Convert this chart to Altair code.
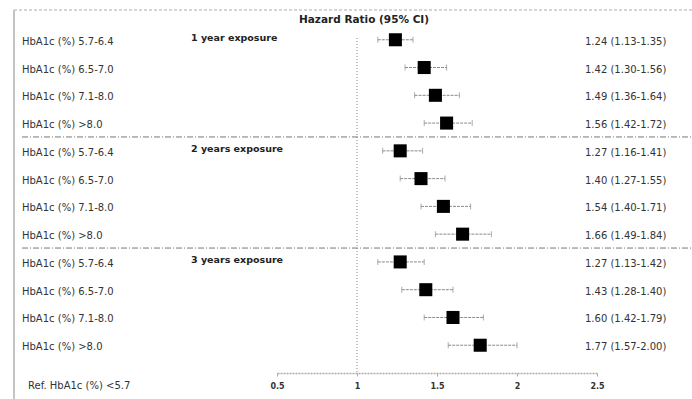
import altair as alt
import pandas as pd

# ---- data ----
groups = ["1 year exposure", "2 years exposure", "3 years exposure"]
categories = ["HbA1c (%) 5.7-6.4", "HbA1c (%) 6.5-7.0", "HbA1c (%) 7.1-8.0", "HbA1c (%) >8.0"]
hr = [1.24, 1.42, 1.49, 1.56, 1.27, 1.40, 1.54, 1.66, 1.27, 1.43, 1.60, 1.77]
lo = [1.13, 1.30, 1.36, 1.42, 1.16, 1.27, 1.40, 1.49, 1.13, 1.28, 1.42, 1.57]
hi = [1.35, 1.56, 1.64, 1.72, 1.41, 1.55, 1.71, 1.84, 1.42, 1.60, 1.79, 2.00]
ci_labels = [
    "1.24 (1.13-1.35)", "1.42 (1.30-1.56)", "1.49 (1.36-1.64)", "1.56 (1.42-1.72)",
    "1.27 (1.16-1.41)", "1.40 (1.27-1.55)", "1.54 (1.40-1.71)", "1.66 (1.49-1.84)",
    "1.27 (1.13-1.42)", "1.43 (1.28-1.40)", "1.60 (1.42-1.79)", "1.77 (1.57-2.00)",
]
x_ticks = [0.5, 1, 1.5, 2, 2.5]
title_text = "Hazard Ratio (95% CI)"
ref_text = "Ref. HbA1c (%) <5.7"

rows = []
i = 0
for g in groups:
    for c in categories:
        rows.append({"row": i, "group": g, "cat": c, "hr": hr[i], "lo": lo[i],
                     "hi": hi[i], "ci": ci_labels[i]})
        i += 1
df = pd.DataFrame(rows)
n_cat = len(categories)
gdf = pd.DataFrame({"group": groups, "row": [k * n_cat for k in range(len(groups))]})
sdf = pd.DataFrame({"row": [k * n_cat - 0.5 for k in range(1, len(groups))]})

FONT = "DejaVu Sans"
TXT = "#333333"
W, H = 320, 361
PL, PT = 277, 12

xs = alt.Scale(domain=[0.5, 2.5], nice=False, zero=False)
ys = alt.Scale(domain=[-1, 12], reverse=True, nice=False, zero=False)
xaxis = alt.Axis(values=x_ticks, format="~g", title=None, grid=False, domainColor="#aaaaaa",
                 domainDash=[2, 1], domainWidth=1.5, tickColor="#aaaaaa", tickSize=3,
                 labelFont=FONT, labelFontSize=8, labelFontWeight="bold",
                 labelColor=TXT, labelPadding=6, labelFlush=False)
Y = alt.Y("row:Q", scale=ys, axis=None)

base = alt.Chart(df)

err = base.mark_rule(color="#8a8a8a", strokeWidth=1, strokeDash=[3, 1]).encode(
    x=alt.X("lo:Q", scale=xs, axis=xaxis), x2="hi:Q", y=Y)
cap_lo = base.mark_tick(color="#8a8a8a", size=6, thickness=1, orient="vertical").encode(
    x=alt.X("lo:Q", scale=xs, axis=xaxis), y=Y)
cap_hi = base.mark_tick(color="#8a8a8a", size=6, thickness=1, orient="vertical").encode(
    x=alt.X("hi:Q", scale=xs, axis=xaxis), y=Y)
sq = base.mark_square(color="black", size=170, opacity=1).encode(
    x=alt.X("hr:Q", scale=xs, axis=xaxis), y=Y)

left_lab = base.mark_text(align="left", baseline="middle", font=FONT, fontSize=10,
                          color=TXT, dy=2).encode(x=alt.value(22 - PL), y=Y, text="cat:N")
right_lab = base.mark_text(align="left", baseline="middle", font=FONT, fontSize=10,
                           color=TXT, dy=2).encode(x=alt.value(585 - PL), y=Y, text="ci:N")

grp = alt.Chart(gdf).mark_text(align="left", baseline="middle", font=FONT, fontSize=9.5,
                               fontWeight="bold", color="#222222", dy=-2).encode(
    x=alt.value(191 - PL), y=Y, text="group:N")

seps = alt.Chart(sdf).mark_rule(color="#777777", strokeWidth=1, strokeDash=[6, 2, 1, 2]).encode(
    x=alt.value(22 - PL), x2=alt.value(692 - PL), y=Y)

vline = alt.Chart(pd.DataFrame({"v": [1.0]})).mark_rule(
    color="#888888", strokeWidth=1, strokeDash=[1, 2]).encode(
    x=alt.X("v:Q", scale=xs, axis=xaxis), y=alt.value(38 - PT), y2=alt.value(H))

title = alt.Chart(pd.DataFrame({"t": [title_text]})).mark_text(
    align="center", baseline="middle", font=FONT, fontSize=10.5, fontWeight="bold",
    color="#222222").encode(x=alt.value(364 - PL), y=alt.value(20 - PT), text="t:N")

ref = alt.Chart(pd.DataFrame({"t": [ref_text]})).mark_text(
    align="left", baseline="middle", font=FONT, fontSize=10, color=TXT).encode(
    x=alt.value(28 - PL), y=alt.value(386 - PT), text="t:N")

top_border = alt.Chart(pd.DataFrame({"a": [0]})).mark_rule(
    color="#aaaaaa", strokeWidth=1, strokeDash=[3, 2]).encode(
    x=alt.value(14 - PL), x2=alt.value(692 - PL), y=alt.value(10 - PT))
left_border = alt.Chart(pd.DataFrame({"a": [0]})).mark_rule(
    color="#c4c4c4", strokeWidth=2).encode(
    x=alt.value(14 - PL), y=alt.value(10 - PT), y2=alt.value(399 - PT))

chart = alt.layer(
    top_border, left_border, seps, vline, err, cap_lo, cap_hi, sq,
    left_lab, right_lab, grp, title, ref
).properties(
    width=W, height=H,
    autosize=alt.AutoSizeParams(type="none"),
    padding={"left": PL, "top": PT, "right": 692 - PL - W, "bottom": 399 - PT - H},
    background="white",
).configure_view(stroke=None)

chart.save("out.html", embed_options={"renderer": "svg", "actions": False})
